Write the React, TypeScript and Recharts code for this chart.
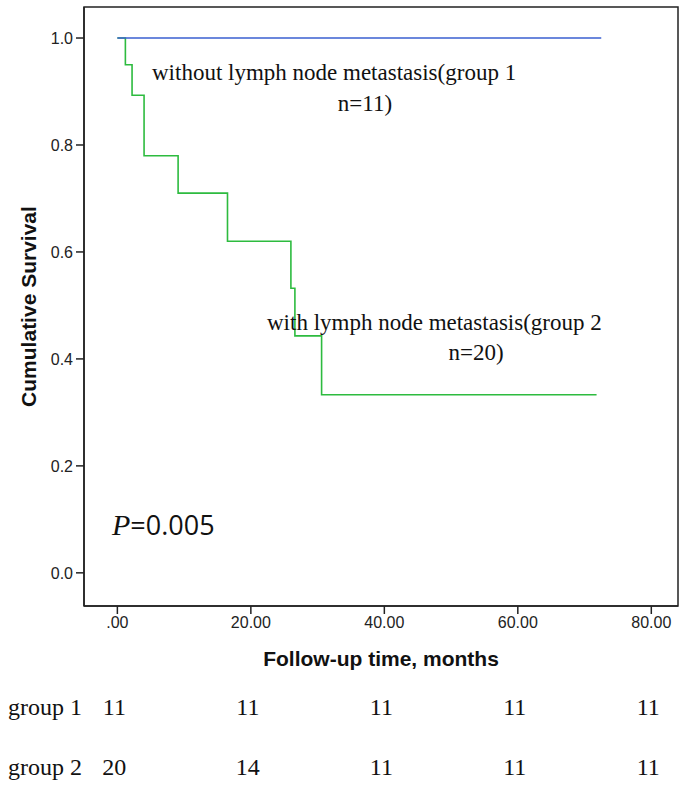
import React from "react";
import {
  LineChart,
  Line,
  XAxis,
  YAxis,
  ReferenceArea,
} from "recharts";

// Kaplan-Meier steps
const group1Times = [0, 72.5];
const group1Surv = [1, 1];
const group2Times = [0, 1.2, 2.2, 4.0, 9.1, 16.5, 26.0, 26.6, 30.6, 71.8];
const group2Surv = [1, 0.95, 0.893, 0.78, 0.71, 0.62, 0.532, 0.443, 0.333, 0.333];

const xTicks = [0, 20, 40, 60, 80];
const yTicks = [0, 0.2, 0.4, 0.6, 0.8, 1.0];

// numbers at risk
const riskTimes = [0, 20, 40, 60, 80];
const group1Risk = [11, 11, 11, 11, 11];
const group2Risk = [20, 14, 11, 11, 11];

const group1Data = group1Times.map((t, i) => ({ t, s: group1Surv[i] }));
const group2Data = group2Times.map((t, i) => ({ t, s: group2Surv[i] }));
const riskData = riskTimes.map((t, i) => ({ t, g1: group1Risk[i], g2: group2Risk[i] }));

const SANS = "'Liberation Sans', Arial, sans-serif";
const SERIF = "'Liberation Serif', 'Times New Roman', serif";

const W = 689;
const H = 788;

function makeRiskTick(name: string, counts: number[]) {
  return function RiskTick({ x, y, payload }: { x: number; y: number; payload: { value: number } }) {
    const idx = riskTimes.indexOf(payload.value);
    return (
      <g>
        {idx === 0 && (
          <text x={8} y={y + 29} fontFamily={SERIF} fontSize={24} fill="#111" textAnchor="start">
            {name}
          </text>
        )}
        <text x={x - 3} y={y + 29} fontFamily={SERIF} fontSize={24} fill="#111" textAnchor="middle">
          {idx >= 0 ? counts[idx] : ""}
        </text>
      </g>
    );
  };
}

const Group1Tick = makeRiskTick("group 1", group1Risk);
const Group2Tick = makeRiskTick("group 2", group2Risk);

function YTitle({ viewBox }: { viewBox?: { x: number; y: number; width: number; height: number } }) {
  const cy = viewBox ? viewBox.y + viewBox.height / 2 : 300;
  return (
    <text
      x={28}
      y={cy}
      transform={`rotate(-90, 28, ${cy})`}
      textAnchor="middle"
      dominantBaseline="central"
      fontFamily={SANS}
      fontWeight="bold"
      fontSize={21}
      fill="#111"
    >
      Cumulative Survival
    </text>
  );
}

function XTitle({ viewBox }: { viewBox?: { x: number; y: number; width: number; height: number } }) {
  const cx = viewBox ? viewBox.x + viewBox.width / 2 : 380;
  const y = viewBox ? viewBox.y + 60 : 666;
  return (
    <text x={cx} y={y} textAnchor="middle" fontFamily={SANS} fontWeight="bold" fontSize={21} fill="#111">
      Follow-up time, months
    </text>
  );
}

export default function App() {
  return (
    <div style={{ position: "absolute", left: 0, top: 0, width: W, height: H, background: "#fff" }}>
      <LineChart width={W} height={H} data={riskData} margin={{ top: 7, right: 11, left: 0, bottom: 2 }}>
        <XAxis
          xAxisId="main"
          dataKey="t"
          type="number"
          domain={[-5, 84]}
          ticks={xTicks}
          allowDataOverflow
          height={80}
          tickSize={8}
          tickMargin={3}
          tick={{ fill: "#222", fontSize: 16, fontFamily: SANS }}
          tickFormatter={(v: number) => (v === 0 ? ".00" : v.toFixed(2))}
          axisLine={{ stroke: "#222", strokeWidth: 1.5 }}
          tickLine={{ stroke: "#222", strokeWidth: 1.5 }}
          label={<XTitle />}
        />
        <XAxis
          xAxisId="r1"
          dataKey="t"
          type="number"
          domain={[-5, 84]}
          ticks={riskTimes}
          allowDataOverflow
          interval={0}
          height={60}
          axisLine={false}
          tickLine={false}
          tickSize={0}
          tickMargin={0}
          tick={Group1Tick}
        />
        <XAxis
          xAxisId="r2"
          dataKey="t"
          type="number"
          domain={[-5, 84]}
          ticks={riskTimes}
          allowDataOverflow
          interval={0}
          height={40}
          axisLine={false}
          tickLine={false}
          tickSize={0}
          tickMargin={0}
          tick={Group2Tick}
        />
        <YAxis
          type="number"
          domain={[-0.062, 1.058]}
          ticks={yTicks}
          allowDataOverflow
          width={84}
          tickSize={8}
          tickMargin={3}
          tick={{ fill: "#222", fontSize: 16, fontFamily: SANS }}
          tickFormatter={(v: number) => v.toFixed(1)}
          axisLine={{ stroke: "#222", strokeWidth: 1.5 }}
          tickLine={{ stroke: "#222", strokeWidth: 1.5 }}
          label={<YTitle />}
        />
        <ReferenceArea
          xAxisId="main"
          x1={-5}
          x2={84}
          y1={-0.062}
          y2={1.058}
          fill="none"
          stroke="#222"
          strokeWidth={1.5}
          ifOverflow="visible"
        />
        <Line
          xAxisId="main"
          data={group2Data}
          dataKey="s"
          type="stepAfter"
          stroke="#2dbb3f"
          strokeWidth={1.6}
          dot={false}
          isAnimationActive={false}
        />
        <Line
          xAxisId="main"
          data={group1Data}
          dataKey="s"
          type="stepAfter"
          stroke="#3a5fd0"
          strokeWidth={1.4}
          dot={false}
          isAnimationActive={false}
        />
      </LineChart>
      <svg
        width={W}
        height={H}
        style={{ position: "absolute", left: 0, top: 0, pointerEvents: "none" }}
      >
        <g fontFamily={SERIF} fontSize={23} fill="#111">
          <text x={152} y={80}>without lymph node metastasis(group 1</text>
          <text x={365} y={111} textAnchor="middle">n=11)</text>
          <text x={267} y={330}>with lymph node metastasis(group 2</text>
          <text x={476} y={360} textAnchor="middle">n=20)</text>
        </g>
        <text x={112} y={535} fill="#111">
          <tspan fontFamily={SERIF} fontStyle="italic" fontSize={30}>P</tspan>
          <tspan fontFamily="'Open Sans', sans-serif" fontSize={27}>=0.005</tspan>
        </text>
      </svg>
    </div>
  );
}
